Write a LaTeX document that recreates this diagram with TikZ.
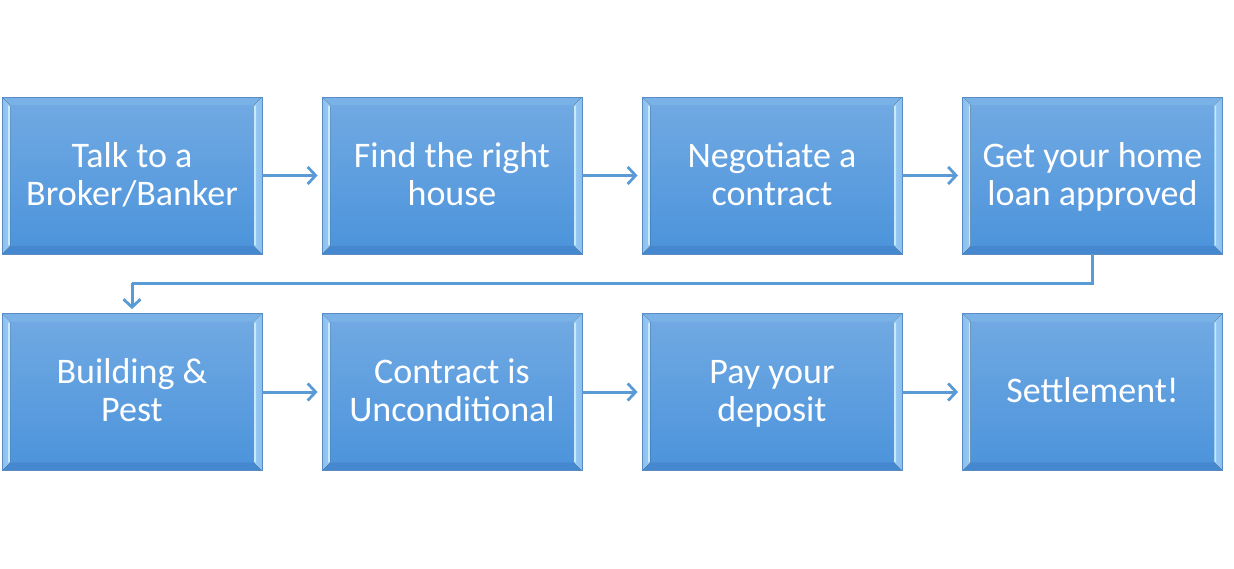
\documentclass[tikz,border=0pt]{standalone}
\usepackage{fontspec}
\setmainfont{Carlito}
\usetikzlibrary{arrows.meta}
\definecolor{boxtop}{HTML}{72AAE3}
\definecolor{boxbot}{HTML}{4B93DB}
\definecolor{boxborder}{HTML}{5A8BC4}
\definecolor{bevtop}{HTML}{7AB2E7}
\definecolor{bevbot}{HTML}{4588CF}
\definecolor{bevside}{HTML}{9ACBF2}
\definecolor{bevpale}{HTML}{C8E8FB}
\definecolor{arrowc}{HTML}{5B9BD5}
\newcommand{\boxline}[1]{\rule[-8.4pt]{0pt}{38pt}#1}
\tikzset{
  stepbox/.style={minimum width=260pt, minimum height=157pt, inner sep=0pt,
    draw=boxborder, line width=0.8pt, top color=boxtop, bottom color=boxbot,
    text=white, font=\fontsize{36}{38}\selectfont, align=center,
    path picture={
      \coordinate (NW) at (path picture bounding box.north west);
      \coordinate (NE) at (path picture bounding box.north east);
      \coordinate (SW) at (path picture bounding box.south west);
      \coordinate (SE) at (path picture bounding box.south east);
      \fill[bevtop] (NW) -- (NE) -- ([shift={(-8pt,-8pt)}]NE) -- ([shift={(8pt,-8pt)}]NW) -- cycle;
      \fill[bevbot] (SW) -- (SE) -- ([shift={(-8pt,8pt)}]SE) -- ([shift={(8pt,8pt)}]SW) -- cycle;
      \fill[left color=bevside!80!boxbot, right color=bevside] (NW) -- ([shift={(8pt,-8pt)}]NW) -- ([shift={(8pt,8pt)}]SW) -- (SW) -- cycle;
      \fill[left color=bevside, right color=bevside!80!boxbot] (NE) -- ([shift={(-8pt,-8pt)}]NE) -- ([shift={(-8pt,8pt)}]SE) -- (SE) -- cycle;
      \draw[bevpale, line width=1.2pt] ([shift={(7pt,-9pt)}]NW) -- ([shift={(7pt,9pt)}]SW);
      \draw[bevpale, line width=1.2pt] ([shift={(-7pt,-9pt)}]NE) -- ([shift={(-7pt,9pt)}]SE);
    }},
  flow/.style={draw=arrowc, line width=3pt,
    -{Straight Barb[length=8pt,width=17pt,line width=2.8pt]}, shorten >=4pt},
  elbow/.style={draw=arrowc, line width=3pt}
}
\begin{document}
\begin{tikzpicture}[x=1pt,y=-1pt]
\useasboundingbox (0,0) rectangle (1234,568);
\node[stepbox] (b1) at (132,175.5) {\boxline{Talk to a}\\\boxline{Broker/Banker}};
\node[stepbox] (b2) at (452,175.5) {\boxline{Find the right}\\\boxline{house}};
\node[stepbox] (b3) at (772,175.5) {\boxline{Negotiate a}\\\boxline{contract}};
\node[stepbox] (b4) at (1092.5,175.5) {\boxline{Get your home}\\\boxline{loan approved}};
\node[stepbox] (b5) at (132,392) {\boxline{Building \&}\\\boxline{Pest}};
\node[stepbox] (b6) at (452,392) {\boxline{Contract is}\\\boxline{Unconditional}};
\node[stepbox] (b7) at (772,392) {\boxline{Pay your}\\\boxline{deposit}};
\node[stepbox] (b8) at (1092.5,392) {\boxline{Settlement!}};
\draw[flow] (b1) -- (b2);
\draw[flow] (b2) -- (b3);
\draw[flow] (b3) -- (b4);
\draw[flow] (b5) -- (b6);
\draw[flow] (b6) -- (b7);
\draw[flow] (b7) -- (b8);
\coordinate (m) at (132,283);
\draw[elbow] (b4.south) |- (m);
\draw[flow] (m) -- (b5.north);
\end{tikzpicture}
\end{document}
